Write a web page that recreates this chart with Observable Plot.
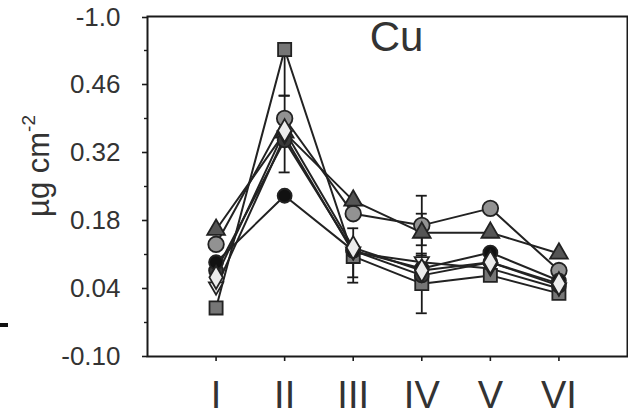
<!DOCTYPE html>
<html>
<head>
<meta charset="utf-8">
<script src="https://cdn.jsdelivr.net/npm/d3@7"></script>
<script src="https://cdn.jsdelivr.net/npm/@observablehq/plot@0.6"></script>
<style>
  html, body { margin: 0; padding: 0; background: #fff; }
  #chart { position: relative; width: 628px; height: 417px; overflow: hidden; }
  #chart svg { display: block; }
  .mark { position: absolute; left: 0; top: 323px; width: 8px; height: 4px; background: #111; }
</style>
</head>
<body>
<div id="chart"><div class="mark"></div></div>
<script>
// ---- data ----
const categories = ["I", "II", "III", "IV", "V", "VI"];
const yTickValues = [-0.10, 0.04, 0.18, 0.32, 0.46];
const yTickLabels = ["-0.10", "0.04", "0.18", "0.32", "0.46"];
const yTopTick = [0.60];
const yTopLabel = ["-1.0"];
const yMinorTicks = [-0.03, 0.11, 0.25, 0.39, 0.53];

const squareSeries   = [0.00, 0.532, 0.106, 0.050, 0.067, 0.030];
const grayCircle     = [0.131, 0.390, 0.194, 0.170, 0.205, 0.077];
const triangleSeries = [0.161, 0.361, 0.221, 0.155, 0.155, 0.112];
const blackCircle    = [0.094, 0.231, 0.118, 0.081, 0.114, 0.056];
const darkCircle     = [0.077, 0.345, 0.118, 0.067, 0.094, 0.046];
const whiteDiamond   = [0.063, 0.365, 0.124, 0.077, 0.094, 0.050];
const invTriangle    = [0.042, 0.353, 0.114, 0.094, 0.081, 0.040];

// error bars: category index (1-based), low, high
const errCat  = [2, 2, 3, 3, 4, 4, 4];
const errLow  = [0.437, 0.279, 0.052, 0.063, 0.108, -0.011, 0.129];
const errHigh = [0.532, 0.437, 0.164, 0.124, 0.231, 0.112, 0.194];

// ---- build ----
const invTri = {
  draw(context, size) {
    const s = Math.sqrt(size);
    context.moveTo(0, s * 0.62);
    context.lineTo(s * 0.62, -s * 0.45);
    context.lineTo(-s * 0.62, -s * 0.45);
    context.closePath();
  }
};

const seriesDefs = [
  {name: "square", values: squareSeries, symbol: "square", fill: "#767676", r: 7.4},
  {name: "grayCircle", values: grayCircle, symbol: "circle", fill: "#929292", r: 7.8},
  {name: "triangle", values: triangleSeries, symbol: "triangle", fill: "#555", r: 6.6},
  {name: "darkCircle", values: darkCircle, symbol: "circle", fill: "#3a3a3a", r: 7},
  {name: "invTriangle", values: invTriangle, symbol: invTri, fill: "#f0f0f0", r: 6.5},
  {name: "blackCircle", values: blackCircle, symbol: "circle", fill: "#111", r: 7},
  {name: "whiteDiamond", values: whiteDiamond, symbol: "diamond", fill: "#ececec", r: 7}
];

const rows = [];
seriesDefs.forEach(s => s.values.forEach((v, i) => rows.push({series: s.name, x: i + 1, y: v})));

const errRows = errCat.map((c, i) => ({x: c, lo: errLow[i], hi: errHigh[i]}));
const capRows = errRows.flatMap(d => [{x: d.x, y: d.lo}, {x: d.x, y: d.hi}]);

const font = "Liberation Sans, Arial, Helvetica, sans-serif";
const textFill = "#333";

const marks = [
  Plot.line(rows, {x: "x", y: "y", z: "series", stroke: "#222", strokeWidth: 2}),
  Plot.ruleX(errRows, {x: "x", y1: "lo", y2: "hi", stroke: "#1a1a1a", strokeWidth: 1.8}),
  Plot.ruleY(capRows, {y: "y", x1: d => d.x - 0.08, x2: d => d.x + 0.08, stroke: "#1a1a1a", strokeWidth: 1.8}),
  ...seriesDefs.map(s => Plot.dot(rows.filter(d => d.series === s.name), {
    x: "x", y: "y", symbol: s.symbol, r: s.r, fill: s.fill, stroke: "#222", strokeWidth: 1.8
  })),
  Plot.axisY({ticks: yTickValues, tickFormat: (d, i) => yTickLabels[i], tickSize: 5, tickPadding: 22,
    fontSize: 26, fill: textFill, stroke: "#1a1a1a", strokeWidth: 1.6, label: null}),
  Plot.axisY({ticks: yTopTick, tickFormat: (d, i) => yTopLabel[i], tickSize: 5, tickPadding: 22, dy: 1,
    fontSize: 26, fill: textFill, stroke: "#1a1a1a", strokeWidth: 1.6, label: null}),
  Plot.axisY({ticks: yMinorTicks, tickFormat: () => "", tickSize: 3, stroke: "#1a1a1a", strokeWidth: 1.4, label: null}),
  Plot.axisX({ticks: [1, 2, 3, 4, 5, 6], tickFormat: d => categories[d - 1], tickSize: 5, tickPadding: 20,
    fontSize: 38, fill: textFill, stroke: "#1a1a1a", strokeWidth: 1.6, label: null}),
  Plot.frame({stroke: "#1a1a1a", strokeWidth: 2}),
  Plot.text(["Cu"], {frameAnchor: "top", text: d => d, dx: 9, dy: 5, lineAnchor: "top", fontSize: 42, fill: textFill})
];

const chart = Plot.plot({
  width: 628,
  height: 417,
  marginLeft: 147,
  marginRight: 1,
  marginTop: 16,
  marginBottom: 61,
  style: {fontFamily: font, background: "#fff", overflow: "visible"},
  x: {domain: [0, 7], axis: null},
  y: {domain: [-0.10, 0.60], axis: null},
  marks
});

// y-axis label with superscript
const svg = d3.select(chart);
const lab = svg.append("text")
  .attr("transform", "translate(49,166) rotate(-90)")
  .attr("text-anchor", "middle")
  .attr("font-family", font)
  .attr("font-size", 31)
  .attr("fill", textFill);
lab.append("tspan").text("µg cm");
lab.append("tspan").attr("font-size", 19).attr("dy", -14).text("-2");

document.getElementById("chart").appendChild(chart);
</script>
</body>
</html>
